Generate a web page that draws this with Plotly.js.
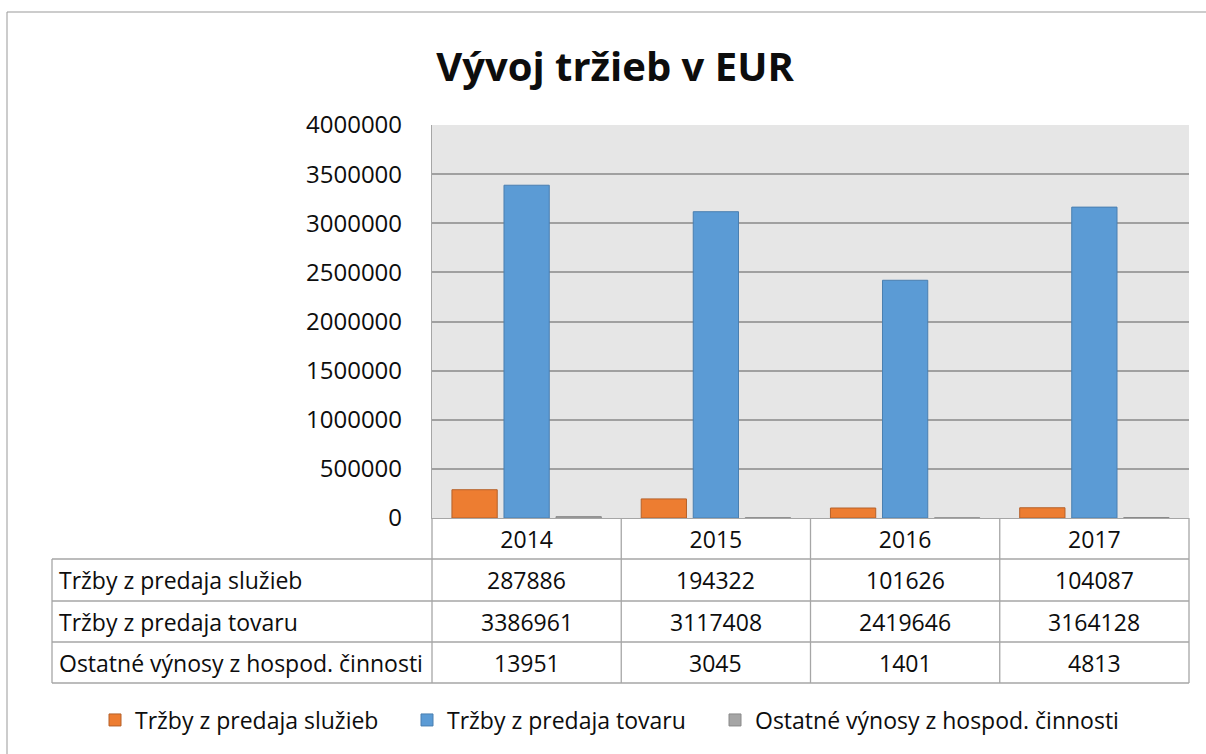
<!DOCTYPE html>
<html>
<head>
<meta charset="utf-8">
<script src="https://cdn.plot.ly/plotly-3.0.1.min.js"></script>
<style>html,body{margin:0;padding:0;background:#fff;}#chart{width:1206px;height:754px;}</style>
</head>
<body>
<div id="chart"></div>
<script>
// ---- data ----
const years = ['2014', '2015', '2016', '2017'];
const seriesNames = ['Tržby z predaja služieb', 'Tržby z predaja tovaru', 'Ostatné výnosy z hospod. činnosti'];
const sluzby = [287886, 194322, 101626, 104087];
const tovar = [3386961, 3117408, 2419646, 3164128];
const ostatne = [13951, 3045, 1401, 4813];
const yTicks = [0, 500000, 1000000, 1500000, 2000000, 2500000, 3000000, 3500000, 4000000];

// ---- layout geometry (pixels) ----
const W = 1206, H = 754;
const PL = 432, PR = 1189, PT = 125, PB = 518;
const rowLines = [518, 559, 601, 642, 683];
const tableLeft = 52;
const legendTextX = [137, 449, 757];
const px = X => (X - PL) / (PR - PL);
const py = Y => (PB - Y) / (PB - PT);

const FONT = 'Open Sans, Noto Sans, sans-serif';
const TXT = '#0d0d0d';
const GRID = '#a0a0a0';
const TBL = '#a6a6a6';
const FS = 23;

const colors = ['#ED7D31', '#5B9BD5', '#A5A5A5'];
const lineColors = ['#B5612A', '#4A7FB0', '#8A8A8A'];
const values = [sluzby, tovar, ostatne];
const legendIds = ['legend', 'legend2', 'legend3'];

const traces = values.map((v, i) => ({
  type: 'bar',
  name: seriesNames[i],
  x: years,
  y: v,
  legend: legendIds[i],
  marker: {color: colors[i], line: {color: lineColors[i], width: 1}},
  hoverinfo: 'x+y+name'
}));

const shapes = [];
// outer frame: top and left edges only (right/bottom lie outside the picture)
shapes.push({type: 'line', xref: 'paper', yref: 'paper', x0: px(7), x1: px(W), y0: py(12), y1: py(12),
  line: {color: '#999999', width: 1}, layer: 'below'});
shapes.push({type: 'line', xref: 'paper', yref: 'paper', x0: px(7), x1: px(7), y0: py(12), y1: py(H),
  line: {color: '#999999', width: 1}, layer: 'below'});
// horizontal table lines
rowLines.slice(1).forEach(Y => {
  shapes.push({type: 'line', xref: 'paper', yref: 'paper', x0: px(tableLeft), x1: px(PR), y0: py(Y), y1: py(Y),
    line: {color: TBL, width: 1.3}});
});
// left border of label column
shapes.push({type: 'line', xref: 'paper', yref: 'paper', x0: px(tableLeft), x1: px(tableLeft), y0: py(rowLines[1]), y1: py(rowLines[4]),
  line: {color: TBL, width: 1.3}});
// vertical lines at plot left and right through table
[PL, PR].forEach(X => {
  shapes.push({type: 'line', xref: 'paper', yref: 'paper', x0: px(X), x1: px(X), y0: py(rowLines[0]), y1: py(rowLines[4]),
    line: {color: TBL, width: 1.3}});
});
// column boundaries between categories
for (let i = 0; i < years.length - 1; i++) {
  shapes.push({type: 'line', xref: 'x', yref: 'paper', x0: i + 0.5, x1: i + 0.5, y0: py(rowLines[0]), y1: py(rowLines[4]),
    line: {color: TBL, width: 1.3}});
}

const annotations = [];
const rowCenters = [0, 1, 2].map(r => (rowLines[r + 1] + rowLines[r + 2]) / 2);
values.forEach((v, r) => {
  annotations.push({xref: 'paper', yref: 'paper', x: px(57), y: py(rowCenters[r]), xanchor: 'left', yanchor: 'middle',
    text: seriesNames[r], showarrow: false, font: {family: FONT, size: FS, color: TXT}});
  v.forEach((val, c) => {
    annotations.push({xref: 'x', yref: 'paper', x: c, y: py(rowCenters[r]), xanchor: 'center', yanchor: 'middle',
      text: String(val), showarrow: false, font: {family: FONT, size: FS, color: TXT}});
  });
});

const layout = {
  width: W, height: H,
  margin: {l: PL, r: W - PR, t: PT, b: H - PB},
  paper_bgcolor: '#ffffff',
  plot_bgcolor: '#E6E6E6',
  font: {family: FONT, color: TXT},
  title: {text: '<b>Vývoj tržieb v EUR</b>', font: {family: FONT, size: 40, color: TXT},
    x: 615 / W, xanchor: 'center', xref: 'container', y: 1 - 67 / H, yanchor: 'middle', yref: 'container'},
  barmode: 'group',
  bargap: 0.175,
  bargroupgap: 0.13,
  showlegend: true,
  xaxis: {type: 'category', categoryorder: 'array', categoryarray: years, range: [-0.5, 3.5],
    showline: true, linecolor: TBL, linewidth: 1.3, ticks: '', ticklabelstandoff: 1,
    tickfont: {family: FONT, size: FS, color: TXT}, showgrid: false, fixedrange: true},
  yaxis: {range: [0, 4000000], tickvals: yTicks, tickformat: 'd', showgrid: true, gridcolor: GRID, gridwidth: 1.5,
    zeroline: false, showline: true, linecolor: TBL, linewidth: 1.3, ticks: '', ticklabelstandoff: 24,
    tickfont: {family: FONT, size: 24, color: TXT}, fixedrange: true},
  shapes: shapes,
  annotations: annotations
};
legendIds.forEach((id, i) => {
  layout[id] = {orientation: 'h', xref: 'container', yref: 'container', x: (legendTextX[i] - 42) / W, xanchor: 'left',
    y: 1 - 720 / H, yanchor: 'middle', font: {family: FONT, size: FS, color: TXT}, itemwidth: 30,
    bgcolor: 'rgba(0,0,0,0)', borderwidth: 0};
});

Plotly.newPlot('chart', traces, layout, {displayModeBar: false});
</script>
</body>
</html>
